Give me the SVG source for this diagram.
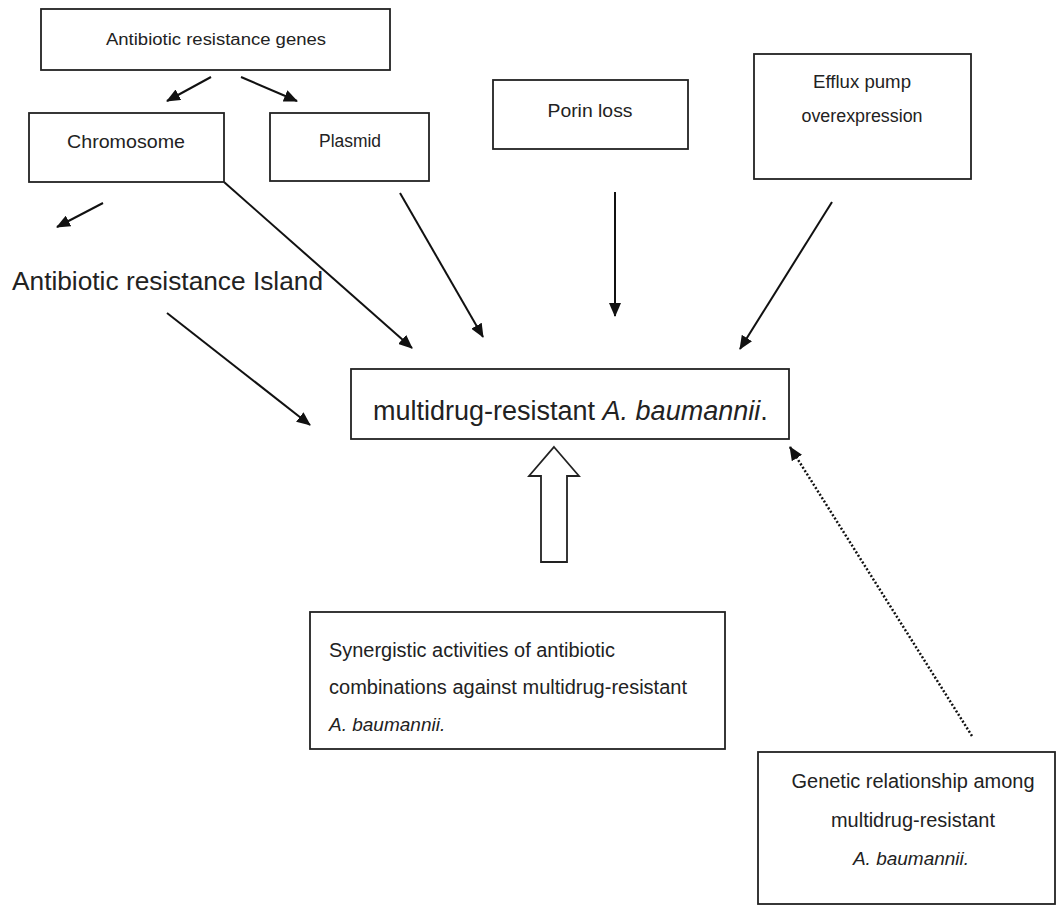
<svg xmlns="http://www.w3.org/2000/svg" width="1057" height="906" viewBox="0 0 1057 906">
<defs>
<marker id="ah" markerUnits="userSpaceOnUse" markerWidth="14" markerHeight="12" refX="13" refY="6" orient="auto">
<path d="M0,0 L14,6 L0,12 Z" fill="#111"/>
</marker>
<style>
.box{fill:#fff;stroke:#222;stroke-width:1.8}
.t{font-family:"Liberation Sans",Arial,sans-serif;fill:#222}
.c{text-anchor:middle}
.ln{stroke:#111;stroke-width:2;fill:none;marker-end:url(#ah)}
.dot{stroke:#111;stroke-width:2.5;fill:none;stroke-dasharray:2 2;marker-end:url(#ah)}
</style>
</defs>
<rect width="1057" height="906" fill="#fff"/>
<g id="connectors">
<line class="ln" x1="211" y1="77" x2="167" y2="101"/>
<line class="ln" x1="241" y1="77" x2="297" y2="101"/>
<line class="ln" x1="103" y1="203" x2="57" y2="227"/>
<line class="ln" x1="224" y1="182" x2="412" y2="348"/>
<line class="ln" x1="400" y1="193" x2="483" y2="337"/>
<line class="ln" x1="615" y1="192" x2="615" y2="316"/>
<line class="ln" x1="832" y1="202" x2="740" y2="349"/>
<line class="ln" x1="167" y1="313" x2="310" y2="425"/>
<line class="dot" x1="972" y1="736" x2="790" y2="447"/>
<polygon points="554,447 579,476 567,476 567,562 541,562 541,476 529,476" fill="#fff" stroke="#222" stroke-width="1.8"/>
</g>
<g id="genes">
<rect class="box" x="41" y="9" width="349" height="61"/>
<text class="t c" x="216" y="45" font-size="16" textLength="220" lengthAdjust="spacingAndGlyphs">Antibiotic resistance genes</text>
</g>
<g id="chromosome">
<rect class="box" x="29" y="113" width="195" height="69"/>
<text class="t c" x="126" y="148" font-size="19" textLength="118" lengthAdjust="spacingAndGlyphs">Chromosome</text>
</g>
<g id="plasmid">
<rect class="box" x="270" y="113" width="159" height="68"/>
<text class="t c" x="350" y="147" font-size="17.5" textLength="62" lengthAdjust="spacingAndGlyphs">Plasmid</text>
</g>
<g id="porin">
<rect class="box" x="493" y="80" width="195" height="69"/>
<text class="t c" x="590" y="117" font-size="18.5" textLength="85" lengthAdjust="spacingAndGlyphs">Porin loss</text>
</g>
<g id="efflux">
<rect class="box" x="754" y="54" width="217" height="125"/>
<text class="t c" x="862" y="88" font-size="18" textLength="98" lengthAdjust="spacingAndGlyphs">Efflux pump</text>
<text class="t c" x="862" y="122" font-size="18" textLength="121" lengthAdjust="spacingAndGlyphs">overexpression</text>
</g>
<g id="island">
<text class="t" x="12" y="290" font-size="26" textLength="311" lengthAdjust="spacingAndGlyphs">Antibiotic resistance Island</text>
</g>
<g id="mdr">
<rect class="box" x="351" y="369" width="438" height="70"/>
<text class="t" x="373" y="420" font-size="27">multidrug-resistant <tspan font-style="italic">A. baumannii</tspan>.</text>
</g>
<g id="synergistic">
<rect class="box" x="310" y="612" width="415" height="137"/>
<text class="t" x="329" y="657" font-size="19.5" textLength="286" lengthAdjust="spacingAndGlyphs">Synergistic activities of antibiotic</text>
<text class="t" x="329" y="694" font-size="19.5" textLength="358" lengthAdjust="spacingAndGlyphs">combinations against multidrug-resistant</text>
<text class="t" x="329" y="731" font-size="19" font-style="italic">A. baumannii.</text>
</g>
<g id="genetic">
<rect class="box" x="758" y="752" width="297" height="152"/>
<text class="t c" x="913" y="788" font-size="19.5" textLength="243" lengthAdjust="spacingAndGlyphs">Genetic relationship among</text>
<text class="t c" x="913" y="827" font-size="19.5" textLength="164" lengthAdjust="spacingAndGlyphs">multidrug-resistant</text>
<text class="t c" x="911" y="865" font-size="19" font-style="italic">A. baumannii.</text>
</g>
</svg>
